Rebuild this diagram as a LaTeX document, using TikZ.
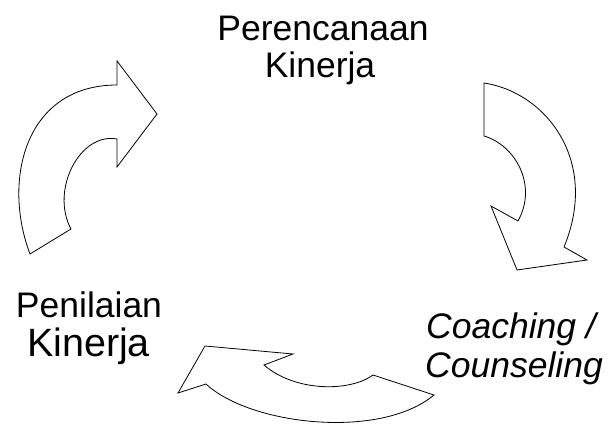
\documentclass[tikz,border=0pt]{standalone}
\usepackage{fontspec}
\setmainfont{Liberation Sans}
\begin{document}
\begin{tikzpicture}[x=1pt,y=-1pt,
  cyc/.style={draw=black,line width=0.8pt,fill=white,line join=miter},
  lbl/.style={inner sep=0pt,font=\fontsize{35.5}{40}\selectfont},
  lblbig/.style={inner sep=0pt,font=\fontsize{39.5}{44}\selectfont}]
\useasboundingbox (0,0) rectangle (616,426);
% arrow top-left
\draw[cyc] (30,254) .. controls (2,180) and (25,85) .. (117,85) -- (117,61) -- (157,114) -- (117,167) -- (117,139)
  .. controls (80,132) and (50,190) .. (71,229) -- cycle;
% arrow right
\draw[cyc] (484,83) .. controls (545,92) and (600,160) .. (564,247) -- (587,260) -- (517,270) -- (491,206) -- (518,221)
  .. controls (538,185) and (515,145) .. (484,136) -- cycle;
% arrow bottom
\draw[cyc] (434,395) -- (373,375) .. controls (350,392) and (295,392) .. (264,365) -- (293,354) -- (205,346) -- (178,393) -- (206,384)
  .. controls (250,425) and (380,440) .. (434,395) -- cycle;
% labels
\node[lbl,anchor=base] (p1) at (323,40) {Perencanaan};
\node[lbl,anchor=base] (p2) at (320,77) {Kinerja};
\node[lbl,anchor=base] (n1) at (89,317) {Penilaian};
\node[lblbig,anchor=base] (n2) at (88.5,356) {Kinerja};
\node[lbl,anchor=base west] (c1) at (426,338) {\itshape Coaching /};
\node[lbl,anchor=base west] (c2) at (425,377) {\itshape Counseling};
\end{tikzpicture}
\end{document}
